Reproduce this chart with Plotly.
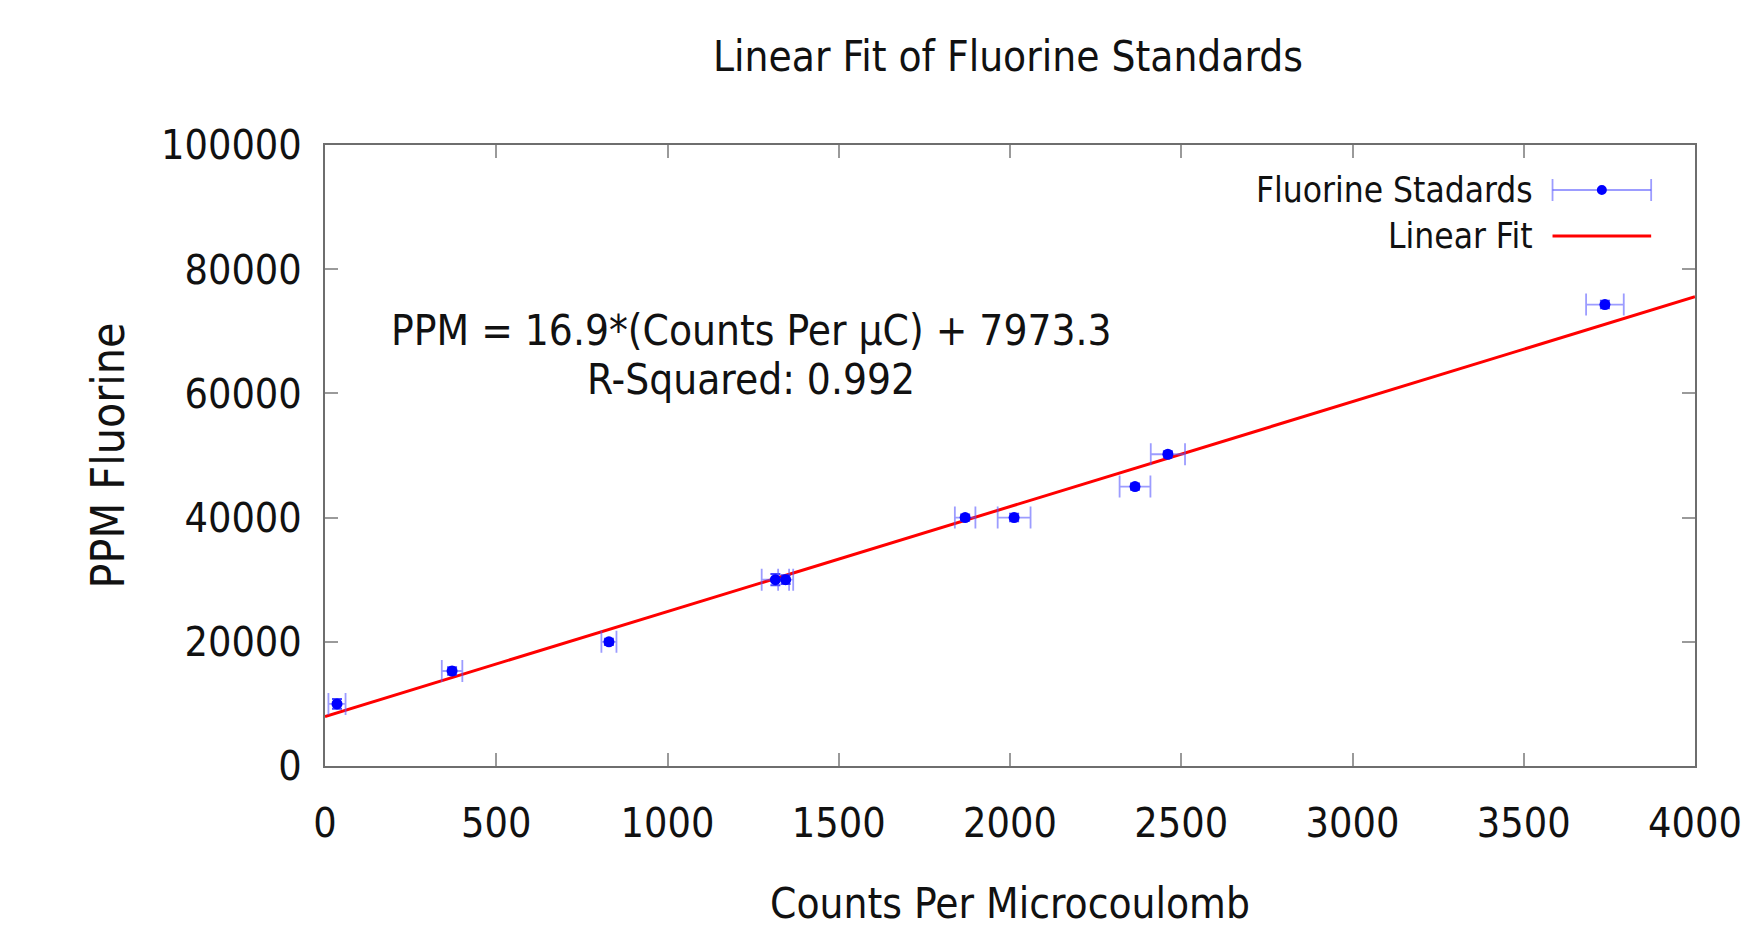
import plotly.graph_objects as go

# ---- data ----
counts = [35, 371, 829, 1315, 1345, 1869, 2012, 2365, 2461, 3737]
ppm = [10000, 15300, 20000, 30000, 30000, 40000, 40000, 45000, 50200, 74300]
counts_err = [25, 30, 22, 40, 22, 30, 48, 45, 50, 55]
ppm_err = [800, 600, 500, 900, 700, 500, 600, 500, 500, 600]

slope = 16.9
intercept = 7973.3
fit_x = [0, 4000]
fit_y = [slope * x + intercept for x in fit_x]

x_ticks = [0, 500, 1000, 1500, 2000, 2500, 3000, 3500, 4000]
y_ticks = [0, 20000, 40000, 60000, 80000, 100000]

FONT = "DejaVu Sans Condensed, sans-serif"
ERR_COLOR = "rgba(90,90,255,0.6)"

fig = go.Figure()

fig.add_trace(go.Scatter(
    x=fit_x, y=fit_y, mode="lines",
    line=dict(color="#ff0000", width=3),
    name="Linear Fit", showlegend=False,
))

fig.add_trace(go.Scatter(
    x=counts, y=ppm, mode="markers",
    marker=dict(color="#0000ff", size=11, symbol="circle"),
    error_x=dict(type="data", array=counts_err, color=ERR_COLOR, thickness=1.8, width=11),
    error_y=dict(type="data", array=ppm_err, color="rgba(40,40,255,0.85)", thickness=2, width=5),
    name="Fluorine Stadards", showlegend=False,
))

axis_common = dict(
    showline=True, linecolor="#6e6e6e", linewidth=2,
    mirror="ticks", ticks="inside", ticklen=13, tickwidth=1.5, tickcolor="#9a9a9a",
    showgrid=False, zeroline=False, automargin=False,
    tickfont=dict(family=FONT, size=41, color="#111111"),
)

fig.update_xaxes(
    range=[0, 4000], tickvals=x_ticks, ticktext=[str(v) for v in x_ticks],
    ticklabelstandoff=20,
    title=dict(text="Counts Per Microcoulomb", font=dict(family=FONT, size=42, color="#111111"), standoff=51),
    **axis_common,
)
fig.update_yaxes(
    range=[0, 100000], tickvals=y_ticks, ticktext=[str(v) for v in y_ticks],
    ticklabelstandoff=13,
    title=dict(text="PPM Fluorine", font=dict(family=FONT, size=46, color="#111111"), standoff=22),
    **axis_common,
)

# equation annotation
fig.add_annotation(x=1245, y=70200, xref="x", yref="y",
                   text="PPM = 16.9*(Counts Per µC) + 7973.3", showarrow=False,
                   font=dict(family=FONT, size=42, color="#111111"), xanchor="center", yanchor="middle")
fig.add_annotation(x=1245, y=62300, xref="x", yref="y",
                   text="R-Squared: 0.992", showarrow=False,
                   font=dict(family=FONT, size=42, color="#111111"), xanchor="center", yanchor="middle")

# manual legend (text on the left, sample on the right, gnuplot style)
leg_rows = [0.9275, 0.8535]
fig.add_annotation(x=0.883, y=leg_rows[0], xref="paper", yref="paper", text="Fluorine Stadards",
                   showarrow=False, xanchor="right", yanchor="middle",
                   font=dict(family=FONT, size=35, color="#111111"))
fig.add_annotation(x=0.883, y=leg_rows[1], xref="paper", yref="paper", text="Linear Fit",
                   showarrow=False, xanchor="right", yanchor="middle",
                   font=dict(family=FONT, size=35, color="#111111"))
sx0, sx1 = 0.896, 0.968
fig.add_shape(type="line", xref="paper", yref="paper", x0=sx0, x1=sx1, y0=leg_rows[0], y1=leg_rows[0],
              line=dict(color=ERR_COLOR, width=1.8))
cap = 11 / 621
for sx in (sx0, sx1):
    fig.add_shape(type="line", xref="paper", yref="paper", x0=sx, x1=sx,
                  y0=leg_rows[0] - cap, y1=leg_rows[0] + cap, line=dict(color=ERR_COLOR, width=1.8))
fig.add_shape(type="circle", xref="paper", yref="paper",
              x0=(sx0 + sx1) / 2 - 5 / 1370, x1=(sx0 + sx1) / 2 + 5 / 1370,
              y0=leg_rows[0] - 5 / 621, y1=leg_rows[0] + 5 / 621,
              fillcolor="#0000ff", line=dict(color="#0000ff", width=0))
fig.add_shape(type="line", xref="paper", yref="paper", x0=sx0, x1=sx1, y0=leg_rows[1], y1=leg_rows[1],
              line=dict(color="#ff0000", width=3))

fig.update_layout(
    width=1741, height=920,
    margin=dict(l=317, r=54, t=137, b=162, autoexpand=False),
    paper_bgcolor="white", plot_bgcolor="white",
    title=dict(text="Linear Fit of Fluorine Standards", x=0.5744, xanchor="center",
               y=1 - 48 / 920, yanchor="middle",
               font=dict(family=FONT, size=42, color="#111111")),
    showlegend=False,
)

fig.write_html("out.html")
